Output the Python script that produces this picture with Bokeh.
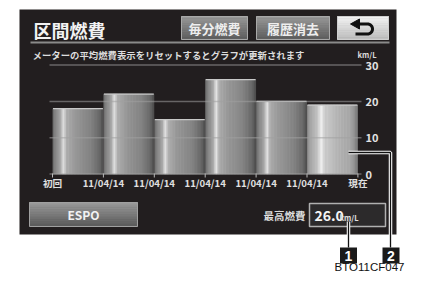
import numpy as np
from bokeh.plotting import figure
from bokeh.models import Range1d
from bokeh.core.properties import value
from bokeh.embed import file_html
from bokeh.resources import INLINE

# ---------------- data ----------------
title_text = "区間燃費"
button_labels = ["毎分燃費", "履歴消去"]
subtitle = "メーターの平均燃費表示をリセットするとグラフが更新されます"
unit = "km/L"
x_labels = ["初回", "11/04/14", "11/04/14", "11/04/14", "11/04/14", "11/04/14", "現在"]
values = [18, 22, 15, 26, 20, 19]
y_ticks = [0, 10, 20, 30]
y_tick_labels = ["0", "10", "20", "30"]
mode_label = "ESPO"
best_label = "最高燃費"
callouts = ["1", "2"]
figure_code = "BTO11CF047"

# ---------------- layout (reference pixels) ----------------
FX0, FY0, FW, FH = 8, 8, 406, 273
X0, BW = 60.0, 50.9      # first bar boundary, px per category
Y0, K = 181.5, 3.63      # pixel of value 0, px per km/L

JP = value("Noto Sans CJK JP")
SANS = value("Liberation Sans")

p = figure(width=FW, height=FH, x_range=Range1d(FX0, FX0 + FW), y_range=Range1d(FY0 + FH, FY0),
           output_backend="svg", toolbar_location=None, x_axis_type=None, y_axis_type=None,
           min_border=0, outline_line_color=None, background_fill_color="white",
           border_fill_color="white")
p.extra_x_ranges = {"cat": Range1d((FX0 - X0) / BW, (FX0 + FW - X0) / BW)}
p.extra_y_ranges = {"val": Range1d((Y0 - (FY0 + FH)) / K, (Y0 - FY0) / K)}


def hexrgb(c):
    return np.array([int(c[i:i + 2], 16) for i in (1, 3, 5)], dtype=float)


def interp_colors(pos, cols, t):
    arr = np.array([hexrgb(c) for c in cols])
    out = []
    for tt in t:
        rgb = [int(round(np.interp(tt, pos, arr[:, k]))) for k in range(3)]
        out.append("#%02x%02x%02x" % tuple(rgb))
    return out


def vgrad(x0, x1, y0, y1, ctop, cbot, n=10, line=None):
    t = (np.arange(n) + 0.5) / n
    cols = interp_colors([0, 1], [ctop, cbot], t)
    edges = np.linspace(y0, y1, n + 1)
    p.quad(left=[x0] * n, right=[x1] * n, top=list(edges[:-1]), bottom=list(edges[1:]),
           fill_color=cols, line_color=cols, line_width=0.8)
    if line:
        p.quad(left=[x0], right=[x1], top=[y0], bottom=[y1], fill_color=None,
               line_color=line, line_width=1)


# dark panel
p.quad(left=[27], right=[404], top=[17], bottom=[242], fill_color="#221e1f", line_color=None)

# title
p.text(x=[41], y=[37], text=[title_text], text_font=JP, text_font_style="bold",
       text_font_size="18px", text_color="#f2f2f2", text_baseline="middle")
p.line([38, 397], [50, 50], line_color="#8a8a8a", line_width=2)

# buttons
for lbl, (bx0, bx1) in zip(button_labels, [(189, 255), (264, 337)]):
    vgrad(bx0, bx1, 24, 47, "#9a9a9a", "#5e5e5e", line="#a8a8a8")
    p.text(x=[(bx0 + bx1) / 2], y=[36], text=[lbl], text_font=JP, text_font_style="bold",
           text_font_size="13px", text_color="#eeeeee", text_align="center", text_baseline="middle")
vgrad(345, 396, 24, 47, "#f4f4f4", "#bdbdbd", line="#cfcfcf")
tt = np.linspace(-np.pi / 2, np.pi / 2, 20)
ax = [365, 375] + list(375 + 5 * np.cos(tt)) + [363]
ay = [31.5, 31.5] + list(36.5 + 5 * np.sin(tt)) + [41.5]
p.line(ax, ay, line_color="#111111", line_width=3)
p.patch([358, 367, 367], [31.5, 26.5, 36.5], fill_color="#111111", line_color="#111111")

# subtitle and unit
p.text(x=[40], y=[62], text=[subtitle], text_font=JP, text_font_style="bold",
       text_font_size="9.4px", text_color="#dddddd", text_baseline="middle")
p.text(x=[365], y=[62], text=[unit], text_font=JP, text_font_style="bold",
       text_font_size="7.5px", text_color="#dddddd", text_baseline="middle")

# bars with cylindrical shading
n = 34
gap = 0.02
t = (np.arange(n) + 0.5) / n
norm_cols = interp_colors([0, 0.05, 0.15, 0.22, 0.28, 0.45, 0.75, 0.94, 1.0],
                          ["#6a6a6a", "#868686", "#a4a4a4", "#e4e4e4", "#b0b0b0",
                           "#9a9a9a", "#868686", "#6a6a6a", "#505050"], t)
cur_cols = interp_colors([0, 0.06, 0.2, 0.29, 0.35, 0.55, 0.85, 0.96, 1.0],
                         ["#8a8a8a", "#a6a6a6", "#c4c4c4", "#f6f6f6", "#cecece",
                          "#bcbcbc", "#aaaaaa", "#909090", "#777777"], t)
for i, v in enumerate(values):
    cols = cur_cols if i == len(values) - 1 else norm_cols
    lefts = i + gap / 2 + (1 - gap) * np.arange(n) / n
    rights = lefts + (1 - gap) / n
    p.quad(left=list(lefts), right=list(rights), bottom=[0] * n, top=[v] * n, fill_color=cols,
           line_color=cols, line_width=0.8, x_range_name="cat", y_range_name="val")
    p.segment(x0=[i + gap / 2], x1=[i + 1 - gap / 2], y0=[v], y1=[v], line_color="#c8c8c8",
              line_width=1.2, x_range_name="cat", y_range_name="val")

# grid lines over bars
p.segment(x0=[57] * len(y_ticks), x1=[369] * len(y_ticks), y0=y_ticks, y1=y_ticks,
          line_color="#a0a0a0", line_alpha=0.55, line_width=1.5, y_range_name="val")
p.text(x=[373] * len(y_ticks), y=y_ticks, text=y_tick_labels, text_font=JP, text_font_style="bold",
       text_font_size="11px", text_color="#e2e2e2", text_baseline="middle", y_range_name="val")

# category boundary ticks and labels
idx = list(range(len(x_labels)))
p.segment(x0=idx, x1=idx, y0=[181] * len(idx), y1=[185] * len(idx), line_color="#bbbbbb",
          line_width=1, x_range_name="cat")
p.text(x=idx, y=[190.5] * len(idx), text=x_labels, text_font=JP, text_font_style="bold",
       text_font_size="9.6px", text_color="#e0e0e0", text_align="center", text_baseline="middle",
       x_range_name="cat")

# ESPO button
vgrad(37, 145, 210, 234, "#9c9c9c", "#5a5a5a", line="#a0a0a0")
p.text(x=[91], y=[222], text=[mode_label], text_font=JP, text_font_style="bold",
       text_font_size="12px", text_color="#f2f2f2", text_align="center", text_baseline="middle")

# best fuel economy box
p.text(x=[313], y=[222.5], text=[best_label], text_font=JP, text_font_style="bold",
       text_font_size="10.5px", text_color="#dddddd", text_align="right", text_baseline="middle")
p.quad(left=[317], right=[393], top=[211], bottom=[234], fill_color="#2c2a2b",
       line_color="#b0b0b0", line_width=1.5)
p.text(x=[322], y=[222.5], text=["%.1f" % max(values)], text_font=JP, text_font_style="bold",
       text_font_size="14px", text_color="#f4f4f4", text_baseline="middle")
p.text(x=[347], y=[225], text=[unit], text_font=JP, text_font_style="bold",
       text_font_size="7.5px", text_color="#e0e0e0", text_baseline="middle")

# callout lines
for lw, lc in [(3.5, "white"), (1.3, "#111111")]:
    p.line([356, 398, 398], [160, 160, 255], line_color=lc, line_width=lw)
    p.line([356, 356], [229, 255], line_color=lc, line_width=lw)
for lbl, cx in zip(callouts, [356, 398.5]):
    p.quad(left=[cx - 8.5], right=[cx + 8.5], top=[255], bottom=[271], fill_color="#1a1a1a",
           line_color=None)
    p.text(x=[cx], y=[263.5], text=[lbl], text_font=SANS, text_font_style="bold",
           text_font_size="14px", text_color="white", text_align="center", text_baseline="middle")

p.text(x=[412], y=[280], text=[figure_code], text_font=SANS, text_font_size="11.5px",
       text_color="#111111", text_align="right", text_baseline="bottom")

open("out.html", "w").write(file_html(p, INLINE))
